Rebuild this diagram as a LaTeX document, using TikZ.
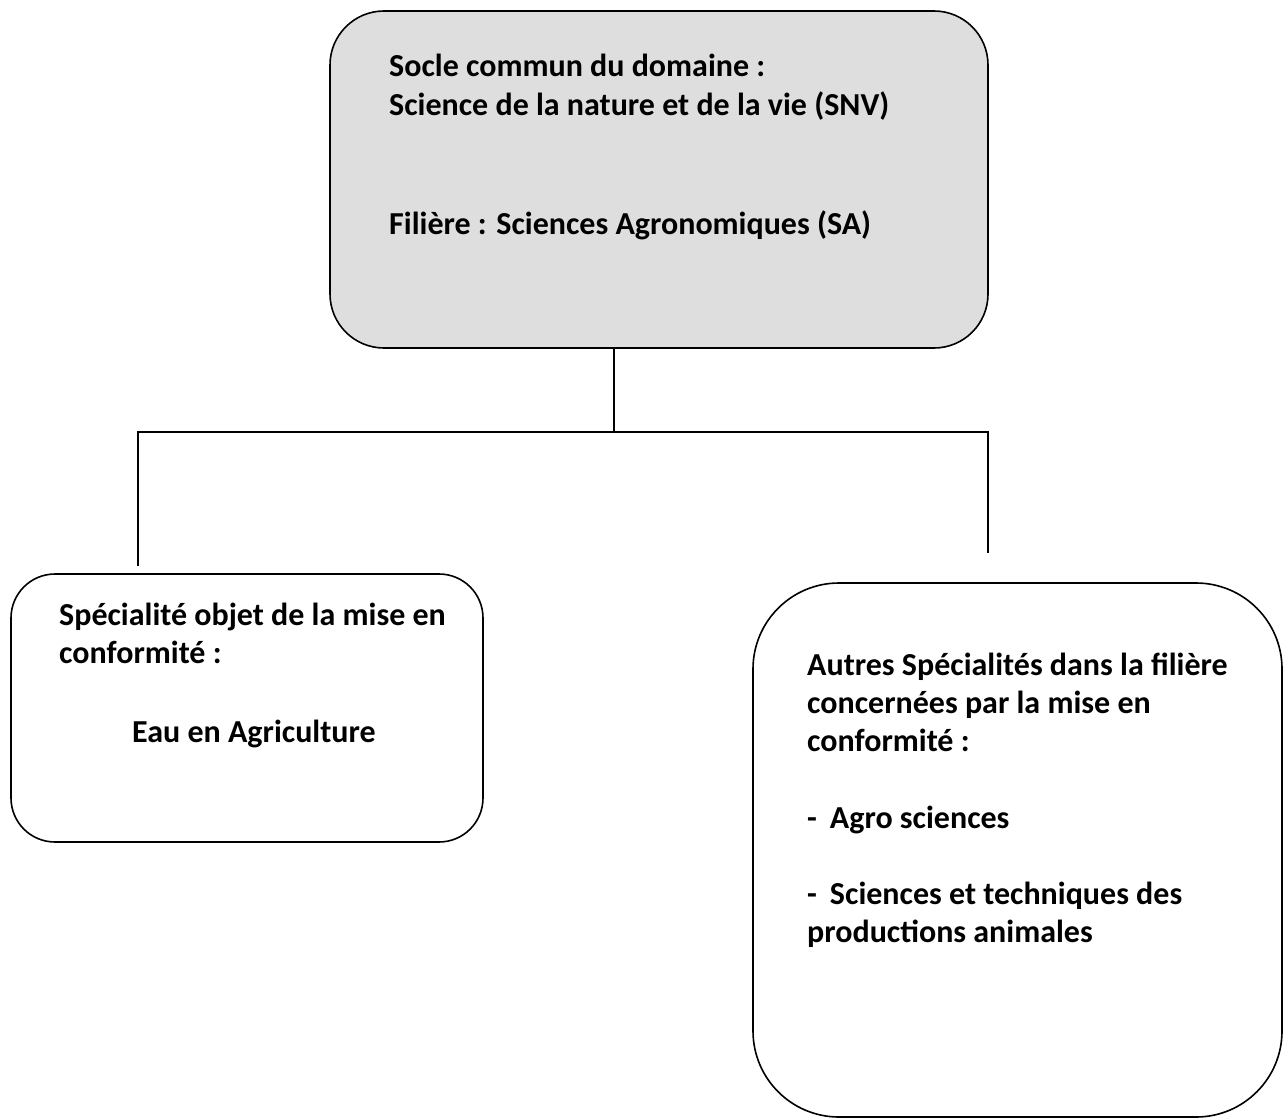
\documentclass[tikz,border=0pt]{standalone}
\usepackage{fontspec}
\setmainfont{Carlito}
\usetikzlibrary{positioning}
\definecolor{boxgray}{HTML}{DEDEDE}

\tikzset{
  box/.style={draw=black, line width=1.6pt, rounded corners=#1, inner sep=0pt},
  box/.default=50pt,
  label text/.style={anchor=base west, inner sep=0pt, font=\fontsize{32}{39}\selectfont\bfseries},
  link/.style={draw=black, line width=1.3pt}
}

\begin{document}
\begin{tikzpicture}[x=1pt, y=-1pt]
  \useasboundingbox (0,0) rectangle (1284,1118);
  % boxes
  \node[box=54pt, fill=boxgray, minimum width=658pt, minimum height=337pt] (socle) at (659,179.5) {};
  \node[box=44pt, minimum width=472pt, minimum height=268pt] (eau) at (247,708) {};
  \node[box=86pt, minimum width=529pt, minimum height=534pt] (autres) at (1017.5,850) {};
  % texts of the top box
  \node[label text] (t1) at (389,77) {Socle commun du domaine :};
  \node[label text] (t2) at (389,116) {Science de la nature et de la vie (SNV)};
  \node[label text] (t3) at (389,234) {Filière : Sciences Agronomiques (SA)};
  % texts of the left box
  \node[label text] (l1) at (59,625) {Spécialité objet de la mise en};
  \node[label text] (l2) at (59,663) {conformité :};
  \node[label text] (l3) at (132,742) {Eau en Agriculture};
  % texts of the right box
  \node[label text] (r1) at (807,675) {Autres Spécialités dans la filière};
  \node[label text] (r2) at (807,713) {concernées par la mise en};
  \node[label text] (r3) at (807,751) {conformité :};
  \node[label text] (r4) at (807,828) {-\hspace{13pt}Agro sciences};
  \node[label text] (r5) at (807,904) {-\hspace{13pt}Sciences et techniques des};
  \node[label text] (r6) at (807,942) {productions animales};
  % connectors
  \coordinate (mid) at (614,432);
  \coordinate (leftup) at (138,432);
  \coordinate (rightup) at (988,432);
  \coordinate (leftend) at (138,566);
  \coordinate (rightend) at (988,553);
  \draw[link] (socle.south -| mid) -- (mid);
  \draw[link] (leftend) -- (leftup) -- (rightup) -- (rightend);
\end{tikzpicture}
\end{document}
